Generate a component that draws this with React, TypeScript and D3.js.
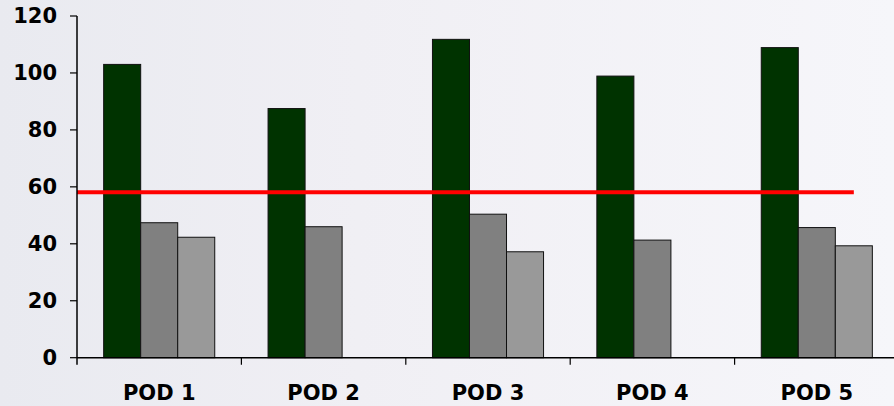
import React from "react";
import * as d3 from "d3";

const categories = ["POD 1", "POD 2", "POD 3", "POD 4", "POD 5"];
const seriesNames = ["A", "B", "C"];
const seriesA = [103, 87.5, 111.8, 98.9, 108.9];
const seriesB = [47.4, 46.0, 50.4, 41.3, 45.7];
const seriesC: (number | null)[] = [42.3, null, 37.2, null, 39.3];
const targetValue = 58.1;
const yTicks = [0, 20, 40, 60, 80, 100, 120];
const seriesColors = ["#003300", "#808080", "#999999"];

const W = 894;
const H = 406;

export default function App() {
  const margin = { left: 77, right: -5, top: 16, bottom: 48 };
  const x = d3
    .scaleBand<string>()
    .domain(categories)
    .range([margin.left, W - margin.right])
    .paddingInner(0)
    .paddingOuter(0);
  const xs = d3
    .scaleBand<string>()
    .domain(seriesNames)
    .range([0, x.bandwidth()])
    .paddingInner(0)
    .paddingOuter(0.72);
  const y = d3
    .scaleLinear()
    .domain([0, 120])
    .range([H - margin.bottom - 0.3, margin.top]);

  const all = [seriesA, seriesB, seriesC];
  const bars: { key: string; x: number; y: number; w: number; h: number; fill: string }[] = [];
  categories.forEach((c, i) => {
    all.forEach((s, j) => {
      const v = s[i];
      if (v == null) return;
      bars.push({
        key: c + j,
        x: (x(c) as number) + (xs(seriesNames[j]) as number),
        y: y(v),
        w: xs.bandwidth(),
        h: y(0) - y(v),
        fill: seriesColors[j],
      });
    });
  });

  const lastCat = categories[categories.length - 1];
  const lineEnd =
    (x(lastCat) as number) + (xs(seriesNames[2]) as number) + xs.bandwidth() / 2;

  const font = "'DejaVu Sans', Verdana, sans-serif";
  const x0 = margin.left;
  const y0 = y(0);

  return (
    <svg
      width={W}
      height={H}
      style={{ position: "fixed", left: 0, top: 0, display: "block" }}
    >
      <defs>
        <linearGradient id="bg" x1="0" y1="0" x2="1" y2="0">
          <stop offset="0" stopColor="#e9eaf0" />
          <stop offset="0.4" stopColor="#f0eff4" />
          <stop offset="1" stopColor="#f6f6fa" />
        </linearGradient>
      </defs>
      <rect x={0} y={0} width={W} height={H} fill="url(#bg)" />
      {bars.map((b) => (
        <rect
          key={b.key}
          x={b.x}
          y={b.y}
          width={b.w}
          height={b.h}
          fill={b.fill}
          stroke="#111"
          strokeWidth={1}
        />
      ))}
      <line
        x1={x0}
        x2={lineEnd}
        y1={y(targetValue)}
        y2={y(targetValue)}
        stroke="#ff0000"
        strokeWidth={4}
      />
      {/* y axis */}
      <line x1={x0} x2={x0} y1={y(120)} y2={y0 + 7} stroke="#000" strokeWidth={1.5} />
      {yTicks.map((t) => (
        <g key={t}>
          <line x1={x0 - 7} x2={x0} y1={y(t)} y2={y(t)} stroke="#000" strokeWidth={1.2} />
          <text
            x={57}
            y={y(t) + 1}
            textAnchor="end"
            dominantBaseline="middle"
            fontFamily={font}
            fontWeight="bold"
            fontSize={21}
            fill="#000"
          >
            {t}
          </text>
        </g>
      ))}
      {/* x axis */}
      <line x1={x0} x2={W} y1={y0} y2={y0} stroke="#000" strokeWidth={1.5} />
      {categories.slice(1).map((c) => (
        <line
          key={c}
          x1={x(c) as number}
          x2={x(c) as number}
          y1={y0}
          y2={y0 + 7}
          stroke="#000"
          strokeWidth={1.2}
        />
      ))}
      {categories.map((c) => (
        <text
          key={c}
          x={(x(c) as number) + x.bandwidth() / 2}
          y={400}
          textAnchor="middle"
          fontFamily={font}
          fontWeight="bold"
          fontSize={21}
          fill="#000"
        >
          {c}
        </text>
      ))}
    </svg>
  );
}
